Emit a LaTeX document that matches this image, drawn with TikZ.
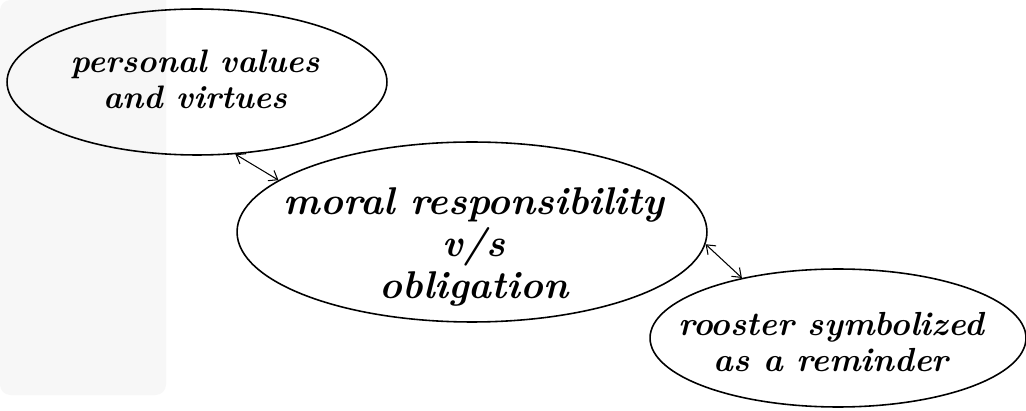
\documentclass[tikz,border=0pt]{standalone}
\usepackage{xcolor}
\usepackage{tikz}
\usetikzlibrary{shapes, arrows.meta}

\definecolor{panelgray}{HTML}{F7F7F7}

\begin{document}
\begin{tikzpicture}[
    x=0.02cm, y=-0.02cm,
    bubble/.style={ellipse, draw=black, line width=0.9pt, inner sep=0pt},
    bubbletext/.style={align=center, font=\bfseries\itshape},
    link/.style={{Straight Barb[length=1.6mm, width=2.4mm]}-{Straight Barb[length=1.6mm, width=2.4mm]}, line width=0.6pt}
]
    \useasboundingbox (0,0) rectangle (1026,411);
    \fill[white] (0,0) rectangle (1026,411);
    \fill[panelgray] (0,0) -- (166,0) [rounded corners=6] -- (166,395) -- (0,395) -- cycle;

    % the three ideas
    \node[bubble, minimum width=7.6cm, minimum height=2.92cm] (values) at (197,82) {};
    \node[bubble, minimum width=9.4cm, minimum height=3.6cm] (moral) at (472,232) {};
    \node[bubble, minimum width=7.52cm, minimum height=2.76cm] (rooster) at (838,338) {};

    \node[bubbletext, font=\fontsize{18.5}{20.5}\selectfont\bfseries\itshape] (valuestext) at (195,79) {personal values\\and virtues};
    \node[bubbletext, font=\fontsize{22}{24}\selectfont\bfseries\itshape] (moraltext) at (474,247) {moral responsibility\\v/s\\obligation};
    \node[bubbletext, font=\fontsize{19}{21}\selectfont\bfseries\itshape] (roostertext) at (831,342) {rooster symbolized\\as a reminder};

    % links
    \draw[link] (values.-62) -- (moral.165);
    \draw[link] (moral.-3) -- (rooster.148);

\end{tikzpicture}
\end{document}
